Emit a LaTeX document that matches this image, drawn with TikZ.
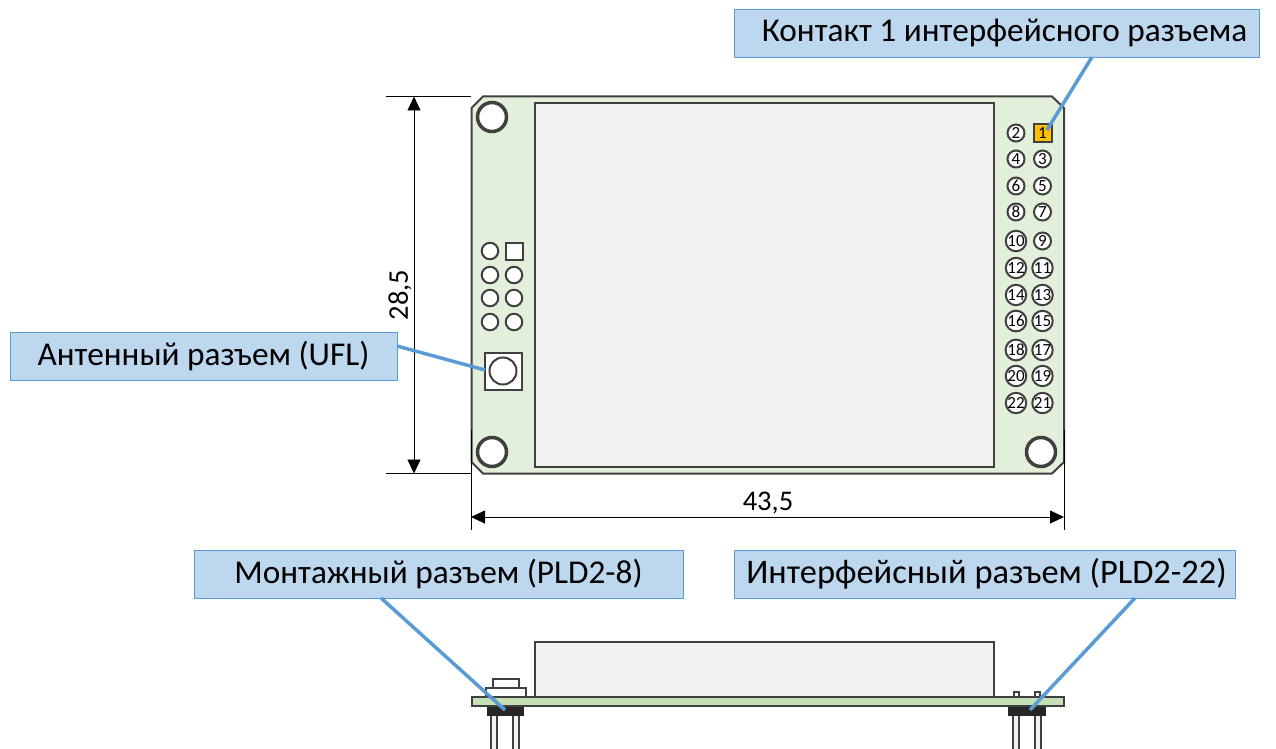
\documentclass[tikz,border=0pt]{standalone}
\usepackage{fontspec}
\setmainfont{Carlito}
\usetikzlibrary{arrows.meta}
\definecolor{boardfill}{HTML}{E2EFDA}
\definecolor{pcbfill}{HTML}{C5E0B4}
\definecolor{screenfill}{HTML}{F2F2F2}
\definecolor{darkline}{HTML}{404040}
\definecolor{labelfill}{HTML}{BDD7EE}
\definecolor{labelline}{HTML}{5B9BD5}
\definecolor{pinfill}{HTML}{FFC000}
\tikzset{
 part/.style={draw=darkline, line width=2pt},
 callout/.style={draw=labelline, line width=0.8pt, fill=labelfill, inner sep=0pt, font=\fontsize{33.3}{36}\selectfont},
 leader/.style={draw=labelline, line width=3.5pt},
 dimline/.style={draw=black, line width=0.9pt},
 dimtext/.style={inner sep=0pt, font=\fontsize{28.5}{30}\selectfont},
 pin/.style={part, circle, fill=white, minimum size=17pt, inner sep=0pt, font=\fontsize{17}{17}\selectfont},
 hole/.style={draw=darkline, line width=3.5pt, circle, fill=white, minimum size=29pt, inner sep=0pt},
 socket/.style={part, circle, fill=white, minimum size=16.5pt, inner sep=0pt},
}
\begin{document}
\begin{tikzpicture}[x=1pt,y=-1pt]
 \useasboundingbox (0,0) rectangle (1276,749);

 % top view
 \draw[part, fill=boardfill] (483,96.5) -- (1052,96.5) -- (1064,108) -- (1064,462) -- (1052,473.5) -- (483,473.5) -- (471.5,462) -- (471.5,108) -- cycle;
 \draw[part, fill=screenfill] (535,103) rectangle (994,467);
 \node (holeTL) [hole] at (492,117) {};
 \node (holeBL) [hole] at (492,452) {};
 \node (holeBR) [hole] at (1041,452) {};

 % interface pins
 \node (pin1) [part, fill=pinfill, minimum size=18pt, inner sep=0pt, font=\fontsize{17}{17}\selectfont] at (1042.5,133) {1};
 \node (pin2) [pin] at (1016,133) {2};
 \foreach \odd/\even/\yy in {3/4/159,5/6/186,7/8/212,9/10/241,11/12/268,13/14/295,15/16/321,17/18/350,19/20/376,21/22/403} {
  \node (pin\odd) [pin] at (1042.5,\yy) {\odd};
  \node (pin\even) [pin] at (1016,\yy) {\even};
 }

 % mounting socket and antenna
 \node (sock1) [part, fill=white, minimum size=17pt, inner sep=0pt] at (514,251) {};
 \node (sock2) [socket] at (490,251) {};
 \foreach \yy [count=\i from 3] in {275,298,322} {
  \node (sockL\i) [socket] at (490,\yy) {};
  \node (sockR\i) [socket] at (514,\yy) {};
 }
 \node (antbase) [part, fill=white, minimum size=37pt, inner sep=0pt] at (503,371) {};
 \node (antring) [part, circle, fill=white, minimum size=27pt, inner sep=0pt] at (503,371) {};

 % dimensions
 \coordinate (dimTa) at (386,96.5);
 \coordinate (dimTb) at (471,96.5);
 \coordinate (dimBa) at (386,473.5);
 \coordinate (dimBb) at (471,473.5);
 \coordinate (dimLa) at (471,430);
 \coordinate (dimLb) at (471,530);
 \coordinate (dimRa) at (1064,430);
 \coordinate (dimRb) at (1064,530);
 \coordinate (arrV1) at (414,96.5);
 \coordinate (arrV2) at (414,473.5);
 \coordinate (arrH1) at (471,517);
 \coordinate (arrH2) at (1064,517);
 \draw[dimline] (dimTa) -- (dimTb);
 \draw[dimline] (dimBa) -- (dimBb);
 \draw[dimline] (dimLa) -- (dimLb);
 \draw[dimline] (dimRa) -- (dimRb);
 \draw[dimline, {Triangle[length=14pt,width=13pt]}-{Triangle[length=14pt,width=13pt]}] (arrV1) -- (arrV2);
 \draw[dimline, {Triangle[length=14pt,width=13pt]}-{Triangle[length=14pt,width=13pt]}] (arrH1) -- (arrH2);
 \node (dimV) [dimtext, rotate=90] at (400,295) {28,5};
 \node (dimH) [dimtext] at (768,503) {43,5};

 % side view
 \draw[part, fill=screenfill] (535,642) rectangle (994,697);
 \draw[part, fill=white] (493,679) rectangle (519,688);
 \draw[part, fill=white] (486,688) rectangle (526,697);
 \foreach \xa in {491,513,1013,1035} {
  \draw[part, fill=screenfill] (\xa,714) rectangle (\xa+6,752);
 }
 \foreach \xa in {1013.5,1035} {
  \draw[part, fill=white] (\xa,692) rectangle (\xa+5,697);
 }
 \draw[draw=black!85, fill=black!85] (487,706) rectangle (523,715);
 \draw[draw=black!85, fill=black!85] (1008,706) rectangle (1045,715);
 \draw[part, fill=pcbfill] (471.5,697) rectangle (1064,706);

 % labels
 \node (labelContact) [callout, minimum width=525pt, minimum height=48pt] at (996.5,33) {\hspace*{16pt}Контакт 1 интерфейсного разъема};
 \node (labelAnt) [callout, minimum width=387pt, minimum height=48pt] at (203.5,356) {Антенный разъем (UFL)};
 \node (labelMount) [callout, minimum width=489pt, minimum height=48pt] at (438.5,574) {Монтажный разъем (PLD2-8)};
 \node (labelIface) [callout, font=\fontsize{34.4}{36}\selectfont, minimum width=501pt, minimum height=48pt] at (984.5,574) {\hspace*{4pt}Интерфейсный разъем (PLD2-22)};

 \coordinate (footContact) at (1092,57);
 \coordinate (tipContact) at (1047,130);
 \coordinate (footAnt) at (397,346);
 \coordinate (tipAnt) at (485,370);
 \coordinate (footMount) at (381,598);
 \coordinate (tipMount) at (505,710);
 \coordinate (footIface) at (1135,598);
 \coordinate (tipIface) at (1030,710);
 \draw[leader] (footContact) -- (tipContact);
 \draw[leader] (footAnt) -- (tipAnt);
 \draw[leader] (footMount) -- (tipMount);
 \draw[leader] (footIface) -- (tipIface);
\end{tikzpicture}
\end{document}
